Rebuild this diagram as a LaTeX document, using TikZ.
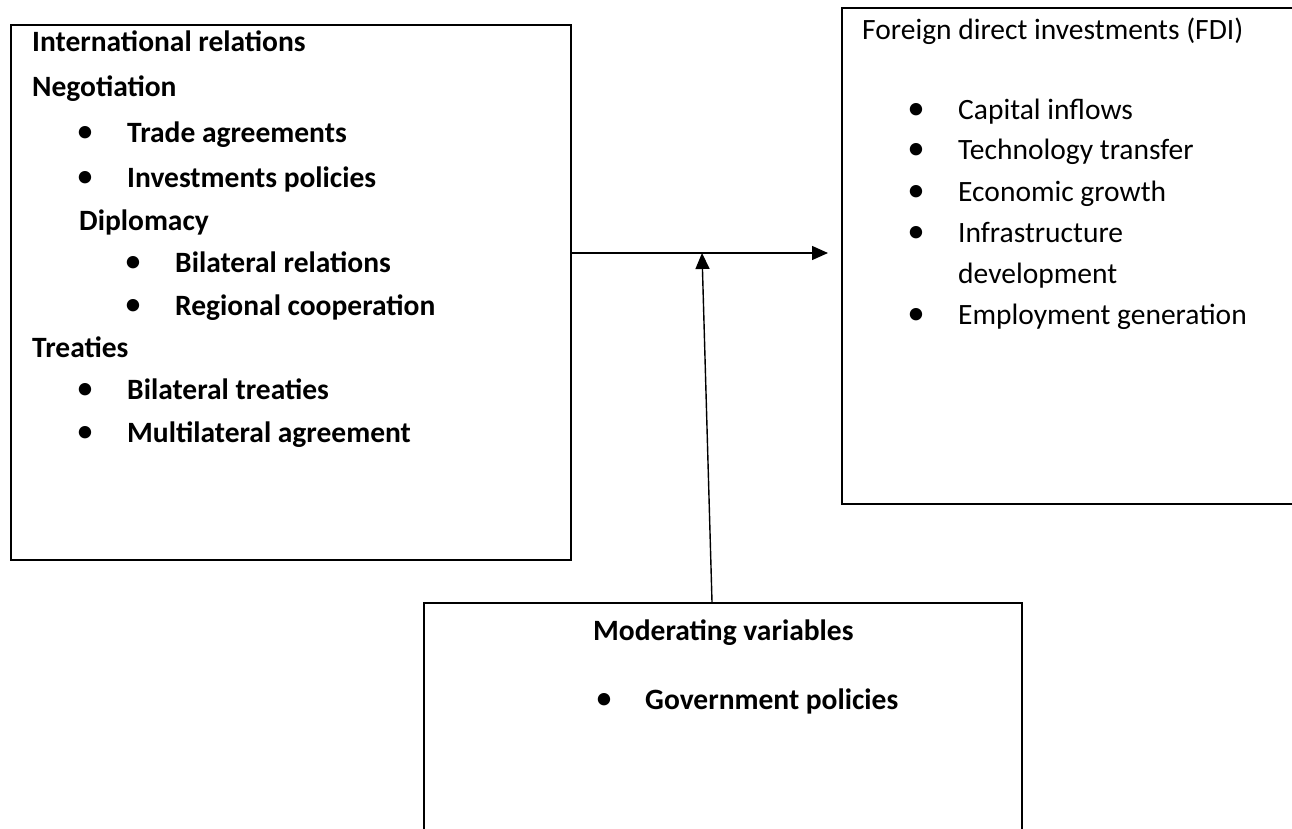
\documentclass[tikz,border=0pt]{standalone}
\usepackage{fontspec}
\setmainfont{Carlito}
\usetikzlibrary{arrows.meta, positioning}

\begin{document}
\begin{tikzpicture}[x=1pt, y=-1pt,
    panel/.style={rectangle, draw=black, line width=1.8pt, anchor=north west, inner sep=0pt},
    txt/.style={anchor=base west, inner sep=0pt, font=\fontsize{29.5}{35}\selectfont},
    btxt/.style={txt, font=\fontsize{29.5}{35}\selectfont\bfseries},
    dot/.style={anchor=base, inner sep=0pt, font=\fontsize{35}{35}\selectfont},
    link/.style={-{Triangle[length=16pt, width=14pt]}, line width=1.4pt}
]
\clip (0,0) rectangle (1292,829);

% Boxes
\node[panel, minimum width=560pt, minimum height=535pt] (irbox) at (10,24) {};
\node[panel, minimum width=480pt, minimum height=496pt] (fdibox) at (841,7) {};
\node[panel, minimum width=598pt, minimum height=260pt] (modbox) at (423,602) {};

% International relations
\node[btxt] (irtitle) at (32,52) {International relations};
\node[btxt] (nego) at (32,97) {Negotiation};
\node[dot] (b1) at (85,143) {•};
\node[btxt] (trade) at (127,143) {Trade agreements};
\node[dot] (b2) at (85,187) {•};
\node[btxt] (invest) at (127,187) {Investments policies};
\node[btxt] (diplo) at (79,230) {Diplomacy};
\node[dot] (b3) at (133,272) {•};
\node[btxt] (bilrel) at (175,272) {Bilateral relations};
\node[dot] (b4) at (133,315) {•};
\node[btxt] (regio) at (175,315) {Regional cooperation};
\node[btxt] (treat) at (32,357) {Treaties};
\node[dot] (b5) at (85,399) {•};
\node[btxt] (biltreat) at (127,399) {Bilateral treaties};
\node[dot] (b6) at (85,442) {•};
\node[btxt] (multi) at (127,442) {Multilateral agreement};

% Foreign direct investments
\node[txt] (fdititle) at (862,40) {Foreign direct investments (FDI)};
\node[dot] (c1) at (916,120) {•};
\node[txt] (capital) at (958,120) {Capital inflows};
\node[dot] (c2) at (916,160) {•};
\node[txt] (techno) at (958,160) {Technology transfer};
\node[dot] (c3) at (916,201) {•};
\node[txt] (growth) at (958,201) {Economic growth};
\node[dot] (c4) at (916,242) {•};
\node[txt] (infra) at (958,242) {Infrastructure};
\node[txt] (devel) at (958,283) {development};
\node[dot] (c5) at (916,324) {•};
\node[txt] (employ) at (958,324) {Employment generation};

% Moderating variables
\node[btxt] (modtitle) at (593,640) {Moderating variables};
\node[dot] (d1) at (604,709) {•};
\node[btxt] (govpol) at (645,709) {Government policies};

% Connectors
\coordinate (meet) at (702,253);
\coordinate (fdiin) at (828,253);
\coordinate (modout) at (712,602);
\draw[line width=1.4pt] (irbox.east |- meet) -- (meet);
\draw[link] (meet) -- (fdiin);
\draw[link] (modout) -- (meet);

\end{tikzpicture}
\end{document}
